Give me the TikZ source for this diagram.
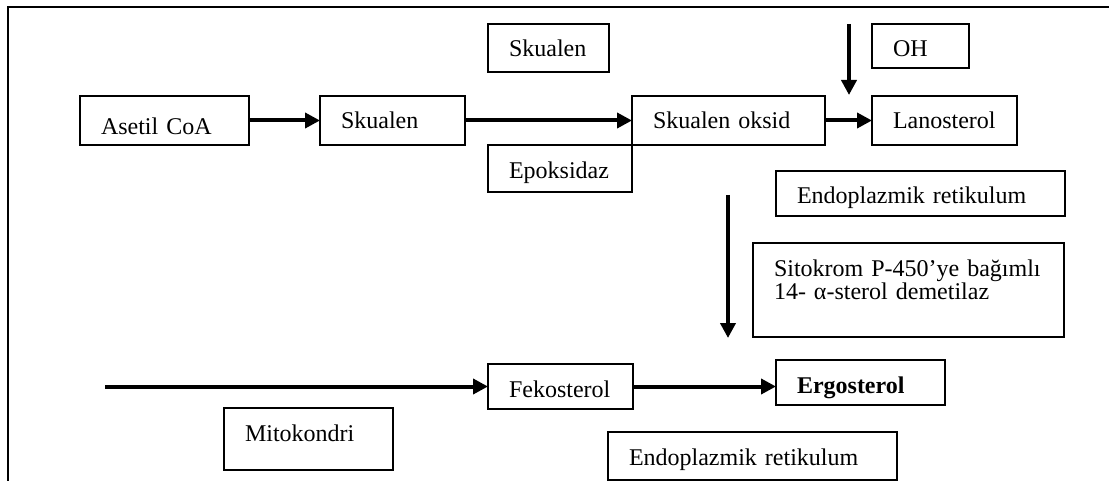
\documentclass[tikz,border=0pt]{standalone}
\usepackage{fontspec}
\setmainfont{Liberation Serif}
\usetikzlibrary{arrows.meta}
\hyphenpenalty=10000
\exhyphenpenalty=10000

\begin{document}
\begin{tikzpicture}[
        x=0.5pt, y=-0.5pt,
        every node/.style={font=\fontsize{12pt}{10.5pt}\selectfont},
        box/.style={rectangle, draw, line width=0.8pt, anchor=north west, outer sep=0pt, align=left, inner xsep=10.5pt, inner ysep=0pt, text height=16.5pt},
        arrow/.style={line width=2pt, -{Triangle[length=7.5pt,width=7.5pt]}}
    ]

        \useasboundingbox (0,0) rectangle (1109,481);
        \draw[line width=0.8pt] (1109,7) -- (8,7) -- (8,481);

        % upper row
        \node[box, text width=63.5pt, text height=19pt, text depth=5.5pt] (acoa) at (80,96) {Asetil CoA};
        \node[box, text width=51.5pt, text depth=8pt] (sq) at (320,96) {Skualen};
        \node[box, text width=39.5pt, text depth=7.5pt] (sqtop) at (488,24) {Skualen};
        \node[box, text width=75.5pt, text depth=8pt] (sqox) at (632,96) {Skualen oksid};
        \node[box, text width=51pt, text depth=7pt] (epox) at (488,145) {Epoksidaz};
        \node[box, text width=27.5pt, text depth=5.5pt] (oh) at (872,24) {OH};
        \node[box, text width=51.5pt, text depth=8pt] (lano) at (872,96) {Lanosterol};
        \node[box, text width=123.5pt, text depth=6pt] (er1) at (776,171) {Endoplazmik retikulum};
        \node[box, text width=134.5pt, text depth=30.5pt] (cyp) at (753,243) {Sitokrom P-450’ye bağımlı\\14- α-sterol demetilaz};

        % lower row
        \node[box, text width=51.5pt, text depth=6pt] (feko) at (488,364) {Fekosterol};
        \node[box, text width=63.5pt, text depth=6pt] (ergo) at (776,360) {\textbf{Ergosterol}};
        \node[box, text width=123.5pt, text depth=7.5pt] (er2) at (608,432) {Endoplazmik retikulum};
        \node[box, text width=63.5pt, text depth=14.5pt] (mito) at (224,408) {Mitokondri};

        \coordinate (ohin) at (849,24);
        \coordinate (ohout) at (849,95);
        \coordinate (cypin) at (728,195);
        \coordinate (cypout) at (728,338);
        \coordinate (mitoin) at (105,386.5);

        \draw[arrow] (acoa) -- (sq);
        \draw[arrow] (sq) -- (sqox);
        \draw[arrow] (sqox) -- (lano);
        \draw[arrow] (ohin) -- (ohout);
        \draw[arrow] (cypin) -- (cypout);
        \draw[arrow] (mitoin) -- (feko);
        \draw[arrow] (feko.east) -- (feko.east -| ergo.west);

    \end{tikzpicture}
\end{document}
